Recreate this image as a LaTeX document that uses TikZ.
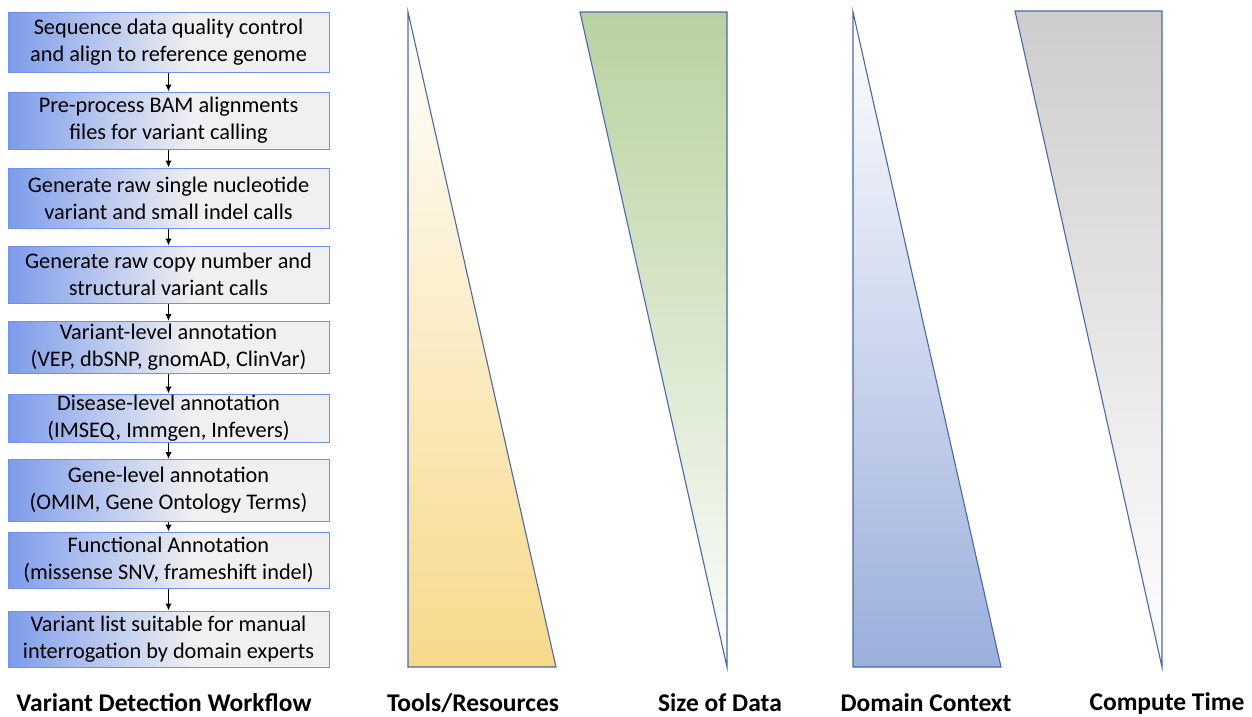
\documentclass[tikz,border=0pt]{standalone}
\usepackage{fontspec}
\setmainfont{Carlito}
\usetikzlibrary{arrows.meta}
\definecolor{bxblue}{HTML}{7C9BEA}
\definecolor{bxgrey}{HTML}{F0F0F2}
\definecolor{bxedge}{HTML}{6F90EE}
\definecolor{tredge}{HTML}{4A68AC}
\definecolor{tyellow}{HTML}{F7D98A}
\definecolor{tgreen}{HTML}{B8D2A0}
\definecolor{tblue}{HTML}{9BAFDC}
\definecolor{tgrey}{HTML}{CDCDCD}
\pgfdeclarehorizontalshading{boxshade}{100bp}{color(0bp)=(bxblue); color(25bp)=(bxblue); color(39bp)=(bxblue!50!bxgrey); color(54bp)=(bxgrey); color(75bp)=(bxgrey); color(100bp)=(bxgrey)}
\tikzset{
  wbox/.style={draw=bxedge, line width=1pt, shading=boxshade, minimum width=321pt, inner sep=0pt, align=center, font=\fontsize{22.3}{27}\selectfont, text=black},
  flow/.style={draw=black, line width=1.4pt, -{Latex[length=7pt,width=6.5pt]}},
  tri/.style={draw=tredge, line width=1.1pt},
  lab/.style={font=\fontsize{25.5}{28}\selectfont\bfseries, text=black, anchor=base}
}
\begin{document}
\begin{tikzpicture}[x=1pt,y=-1pt]
\useasboundingbox (0,0) rectangle (1252,716);
% workflow boxes
\node[wbox, minimum height=60pt] (b1) at (168.5,42) {Sequence data quality control\\and align to reference genome};
\node[wbox, minimum height=57pt] (b2) at (168.5,120.5) {Pre-process BAM alignments\\files for variant calling};
\node[wbox, minimum height=60pt] (b3) at (168.5,198) {Generate raw single nucleotide\\variant and small indel calls};
\node[wbox, minimum height=57pt] (b4) at (168.5,274.5) {Generate raw copy number and\\structural variant calls};
\node[wbox, minimum height=52pt] (b5) at (168.5,347.5) {Variant-level annotation\\(VEP, dbSNP, gnomAD, ClinVar)};
\node[wbox, minimum height=48pt] (b6) at (168.5,418) {Disease-level annotation\\(IMSEQ, Immgen, Infevers)};
\node[wbox, minimum height=62pt] (b7) at (168.5,490.5) {Gene-level annotation\\(OMIM, Gene Ontology Terms)};
\node[wbox, minimum height=56pt] (b8) at (168.5,560) {Functional Annotation\\(missense SNV, frameshift indel)};
\node[wbox, minimum height=56pt] (b9) at (168.5,639) {Variant list suitable for manual\\interrogation by domain experts};
\foreach \a/\b in {b1/b2,b2/b3,b3/b4,b4/b5,b5/b6,b6/b7,b7/b8,b8/b9}
  \draw[flow] (\a.south) -- (\b.north);
% triangles
\shade[top color=white, bottom color=tyellow] (408,12) -- (408,667) -- (556,667) -- cycle;
\draw[tri] (408,12) -- (408,667) -- (556,667) -- cycle;
\shade[top color=tgreen, bottom color=white!96!tgreen] (580,12) -- (727,12) -- (727,667) -- cycle;
\draw[tri] (580,12) -- (727,12) -- (727,667) -- cycle;
\shade[top color=white, bottom color=tblue] (853,12) -- (853,667) -- (1001,667) -- cycle;
\draw[tri] (853,12) -- (853,667) -- (1001,667) -- cycle;
\shade[top color=tgrey, bottom color=white] (1015,11) -- (1162,11) -- (1162,667) -- cycle;
\draw[tri] (1015,11) -- (1162,11) -- (1162,667) -- cycle;
% labels
\node[lab] (l1) at (164,711) {Variant Detection Workflow};
\node[lab] (l2) at (473,711) {Tools/Resources};
\node[lab] (l3) at (720,711) {Size of Data};
\node[lab] (l4) at (926,711) {Domain Context};
\node[lab] (l5) at (1167,710) {Compute Time};
\end{tikzpicture}
\end{document}
